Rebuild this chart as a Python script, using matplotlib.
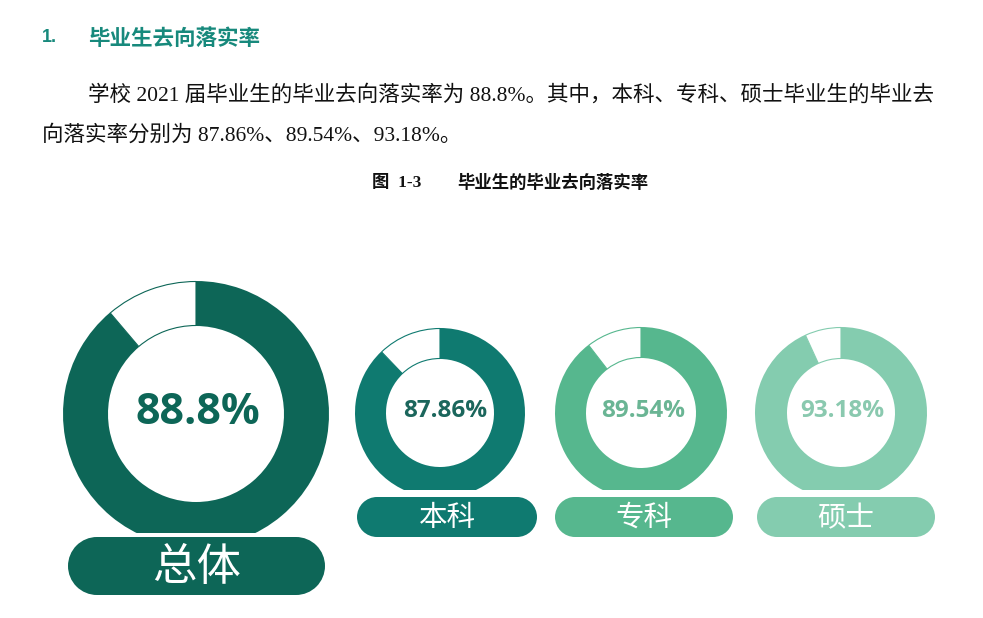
import matplotlib.pyplot as plt
from matplotlib.patches import Wedge, Rectangle, Circle

# data
groups = ['总体', '本科', '专科', '硕士']
rates = [88.8, 87.86, 89.54, 93.18]
rate_labels = ['88.8%', '87.86%', '89.54%', '93.18%']

ring_colors = ['#0d6657', '#0f7a70', '#56b78e', '#84ccaf']
text_colors = ['#0d6657', '#1b665c', '#6ab594', '#8ac9af']

W, H = 983, 618
CJK = 'Noto Sans CJK SC'

fig = plt.figure(figsize=(W / 100, H / 100), dpi=100)
ax = fig.add_axes([0, 0, 1, 1])
ax.set_xlim(0, W)
ax.set_ylim(0, H)
ax.set_aspect('equal')
ax.axis('off')


def Y(y):  # pixel row -> data y
    return H - y


def pill(x, y, w, h, color):
    # rectangle with two half-circle ends, y is the top row in pixels
    rad = h / 2
    yc = Y(y + rad)
    ax.add_patch(Rectangle((x + rad, Y(y + h)), w - h, h, facecolor=color, edgecolor='none', zorder=4))
    ax.add_patch(Circle((x + rad, yc), rad, facecolor=color, edgecolor='none', zorder=4))
    ax.add_patch(Circle((x + w - rad, yc), rad, facecolor=color, edgecolor='none', zorder=4))


# layout of each donut: center, radii, cut row, pill box, font sizes
layout = [
    dict(cx=196, cy=414, r=133, rin=88, cut=533, px=68, pw=257, py=537, ph=58, fs_pct=31, fs_lab=32, tx=198),
    dict(cx=440, cy=413, r=85, rin=54, cut=490, px=357, pw=180, py=497, ph=40, fs_pct=17.5, fs_lab=20.5, tx=445),
    dict(cx=641, cy=413, r=86, rin=55, cut=490, px=555, pw=178, py=497, ph=40, fs_pct=17.5, fs_lab=20.5, tx=643),
    dict(cx=841, cy=413, r=86, rin=54, cut=490, px=757, pw=178, py=497, ph=40, fs_pct=17.5, fs_lab=20.5, tx=842),
]

for name, rate, lab, col, tcol, L in zip(groups, rates, rate_labels, ring_colors, text_colors, layout):
    c = (L['cx'], Y(L['cy']))
    span = rate / 100 * 360
    # filled part clockwise from 12 o'clock
    ax.add_patch(Wedge(c, L['r'], 90 - span, 90, width=L['r'] - L['rin'], facecolor=col, edgecolor='none'))
    # remaining part, white with thin outline
    ax.add_patch(Wedge(c, L['r'] - 0.5, 90, 90 + 360 - span, width=L['r'] - L['rin'] - 1,
                       facecolor='white', edgecolor=col, lw=0.8))
    # flat cut at the bottom of the ring
    ax.add_patch(Rectangle((L['cx'] - L['r'] - 2, Y(L['py'])), 2 * L['r'] + 4, L['py'] - L['cut'],
                           facecolor='white', edgecolor='none', zorder=3))
    pill(L['px'], L['py'], L['pw'], L['ph'], col)
    ax.text(L['px'] + L['pw'] / 2, Y(L['py'] + L['ph'] / 2 + 1), name, ha='center', va='center',
            fontsize=L['fs_lab'], color='white', family=[CJK], zorder=5)
    ax.text(L['tx'], Y(L['cy'] - 2), lab, ha='center', va='center', fontsize=L['fs_pct'],
            color=tcol, family=['Open Sans'], fontweight='bold')

# heading and paragraph
teal = '#17897c'
ax.text(42, Y(38), '1.', ha='left', va='center', fontsize=13, color=teal,
        family=['Liberation Sans'], fontweight='bold')
ax.text(88, Y(38), '毕业生去向落实率', ha='left', va='center', fontsize=15.5, color=teal,
        family=[CJK], fontweight='bold')

body = ['Liberation Serif', CJK]
ax.text(88, Y(95), '学校 2021 届毕业生的毕业去向落实率为 88.8%。其中，本科、专科、硕士毕业生的毕业去',
        ha='left', va='center', fontsize=15.5, color='#111111', family=body)
ax.text(42, Y(135), '向落实率分别为 87.86%、89.54%、93.18%。',
        ha='left', va='center', fontsize=15.5, color='#111111', family=body)

ax.text(372, Y(183), '图  1-3', ha='left', va='center', fontsize=12.5, color='#111111',
        family=body, fontweight='bold')
ax.text(457, Y(183), '毕业生的毕业去向落实率', ha='left', va='center', fontsize=12.5,
        color='#111111', family=[CJK], fontweight='bold')

fig.savefig('out.png', dpi=100, facecolor='white')
